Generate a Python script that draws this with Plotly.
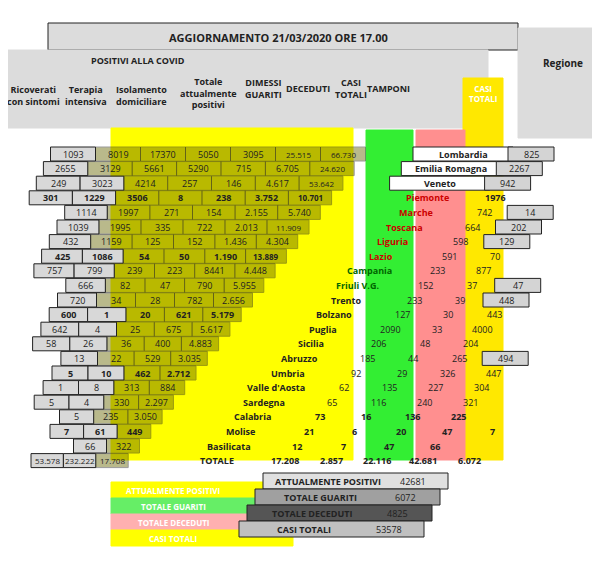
import plotly.graph_objects as go

title = "AGGIORNAMENTO 21/03/2020 ORE 17.00"
headers = ["Ricoverati<br>con sintomi", "Terapia<br>intensiva", "Isolamento<br>domiciliare",
           "Totale<br>attualmente<br>positivi", "DIMESSI<br>GUARITI", "DECEDUTI", "CASI<br>TOTALI", "TAMPONI"]

left_rows = [
    ["1093", "8019", "17370", "5050", "3095", "25.515", "66.730"],
    ["2655", "3129", "5661", "5290", "715", "6.705", "24.620"],
    ["249", "3023", "4214", "257", "146", "4.617", "53.642"],
    ["301", "1229", "3506", "8", "238", "3.752", "10.701"],
    ["1114", "1997", "271", "154", "2.155", "5.740"],
    ["1039", "1995", "335", "722", "2.013", "11.909"],
    ["432", "1159", "125", "152", "1.436", "4.304"],
    ["425", "1086", "54", "50", "1.190", "13.889"],
    ["757", "799", "239", "223", "8441", "4.448"],
    ["666", "82", "47", "790", "5.955"],
    ["720", "34", "28", "782", "2.656"],
    ["600", "1", "20", "621", "5.179"],
    ["642", "4", "25", "675", "5.617"],
    ["58", "26", "36", "400", "4.883"],
    ["13", "22", "529", "3.035"],
    ["5", "10", "462", "2.712"],
    ["1", "8", "313", "884"],
    ["5", "4", "330", "2.297"],
    ["5", "235", "3.050"],
    ["7", "61", "449"],
    ["66", "322"],
    ["53.578", "232.222", "17.708"],
]

regions = ["Lombardia", "Emilia Romagna", "Veneto", "Piemonte", "Marche", "Toscana", "Liguria",
           "Lazio", "Campania", "Friuli V.G.", "Trento", "Bolzano", "Puglia", "Sicilia", "Abruzzo",
           "Umbria", "Valle d'Aosta", "Sardegna", "Calabria", "Molise", "Basilicata", "TOTALE"]
region_vals = [
    ["825"], ["2267"], ["942"], ["1976"], ["742", "14"], ["664", "202"], ["598", "129"],
    ["591", "70"], ["233", "877"], ["152", "37", "47"], ["233", "39", "448"], ["127", "30", "443"],
    ["2090", "33", "4000"], ["206", "48", "204"], ["185", "44", "265", "494"],
    ["92", "29", "326", "447"], ["62", "135", "227", "304"], ["65", "116", "240", "321"],
    ["73", "16", "136", "225"], ["21", "6", "20", "47", "7"], ["12", "7", "47", "66"],
    ["17.208", "2.857", "22.116", "42.681", "6.072"],
]

legend_labels = ["ATTUALMENTE POSITIVI", "TOTALE GUARITI", "TOTALE DECEDUTI", "CASI TOTALI"]
legend_values = ["42681", "6072", "4825", "53578"]

fig = go.Figure()
shapes, notes = [], []


def box(x0, y0, x1, y1, color, opacity=1.0, line="#222"):
    shapes.append(dict(type="rect", x0=x0, y0=y0, x1=x1, y1=y1, fillcolor=color,
                       opacity=opacity, line=dict(color=line, width=1), layer="below"))


def text(x, y, s, size=10, color="#222", bold=False):
    notes.append(dict(x=x, y=y, text=f"<b>{s}</b>" if bold else s, showarrow=False,
                      font=dict(size=size, color=color, family="Open Sans")))


# header
box(40, 15, 510, 42, "#dcdcdc")
text(270, 29, title, 11, bold=True)
box(0, 42, 480, 120, "#dcdcdc", line="#dcdcdc")
text(130, 52, "POSITIVI ALLA COVID", 9, bold=True)
box(510, 20, 600, 130, "#dcdcdc", line="#dcdcdc")
text(555, 55, "Regione", 10, bold=True)
head_x = [25, 78, 133, 200, 255, 300, 343, 380]
head_y = [87, 87, 87, 85, 80, 80, 80, 80]
for hx, hy, h in zip(head_x, head_y, headers):
    text(hx, hy, h, 9, bold=True)

# coloured bands
box(103, 120, 345, 452, "#ffff00", line="#ffff00")
box(455, 70, 495, 452, "#ffe800", line="#ffe800")
box(358, 122, 405, 452, "#33ee33", line="#33ee33")
box(408, 122, 457, 452, "#ff8f8f", line="#ff8f8f")
text(475, 85, "CASI<br>TOTALI", 8, "#ffffff", bold=True)

# left (positive) table
y0, dy = 146, 14.6
for i, row in enumerate(left_rows):
    y = y0 + i * dy
    step = 45 - 0.6 * i
    last = 335 - 11 * i
    n = len(row)
    for j, v in enumerate(row):
        x = last - (n - 1 - j) * step
        inside = x >= 100
        box(x - step / 2, y - 7, x + step / 2, y + 7, "#666600" if inside else "#d8d8d8",
            opacity=0.45 if inside else 1.0)
        text(x, y, v, 8 if len(v) > 5 else 9, bold=(i % 4 == 3))

# region staircase
for i, (name, vals) in enumerate(zip(regions, region_vals)):
    y = y0 + i * dy
    xc = 455 - i * 11.7
    col = "#222" if i < 3 or i > 9 else ("#cc0000" if i < 8 else "#006600")
    if i < 3:
        box(xc - 50, y - 7, xc + 50, y + 7, "#ffffff")
    text(xc, y, name, 9, col, bold=True)
    for j, v in enumerate(vals):
        vx = xc + 68 + j * 46
        if vx > 495:
            box(vx - 23, y - 7, vx + 23, y + 7, "#d4d4d4")
        text(vx, y, v, 9, bold=(i == 3 or i > 17))

# legend
leg_colors = ["#ffff00", "#66ee66", "#ffb0b0", "#ffff00"]
gray_boxes = ["#e0e0e0", "#a0a0a0", "#555555", "#c0c0c0"]
for k, (lab, val, c) in enumerate(zip(legend_labels, legend_values, leg_colors)):
    y = 482 + k * 16
    box(103, y - 8, 285, y + 8, c, line=c)
    text(165, y, lab, 8, "#ffffff", bold=True)
    gx = 255 - k * 8
    gy = y - 9
    box(gx, gy - 8, gx + 185, gy + 8, gray_boxes[k])
    text(gx + 65, gy, lab, 9, bold=True)
    text(gx + 150, gy, val, 9)

fig.add_trace(go.Scatter(x=[0, 600], y=[0, 565], mode="markers", marker=dict(opacity=0),
                         hoverinfo="skip", showlegend=False))
fig.update_layout(
    width=600, height=565, margin=dict(l=0, r=0, t=0, b=0),
    plot_bgcolor="white", paper_bgcolor="white",
    xaxis=dict(range=[0, 600], visible=False, fixedrange=True),
    yaxis=dict(range=[565, 0], visible=False, fixedrange=True),
    shapes=shapes, annotations=notes,
)
fig.write_html("out.html")
